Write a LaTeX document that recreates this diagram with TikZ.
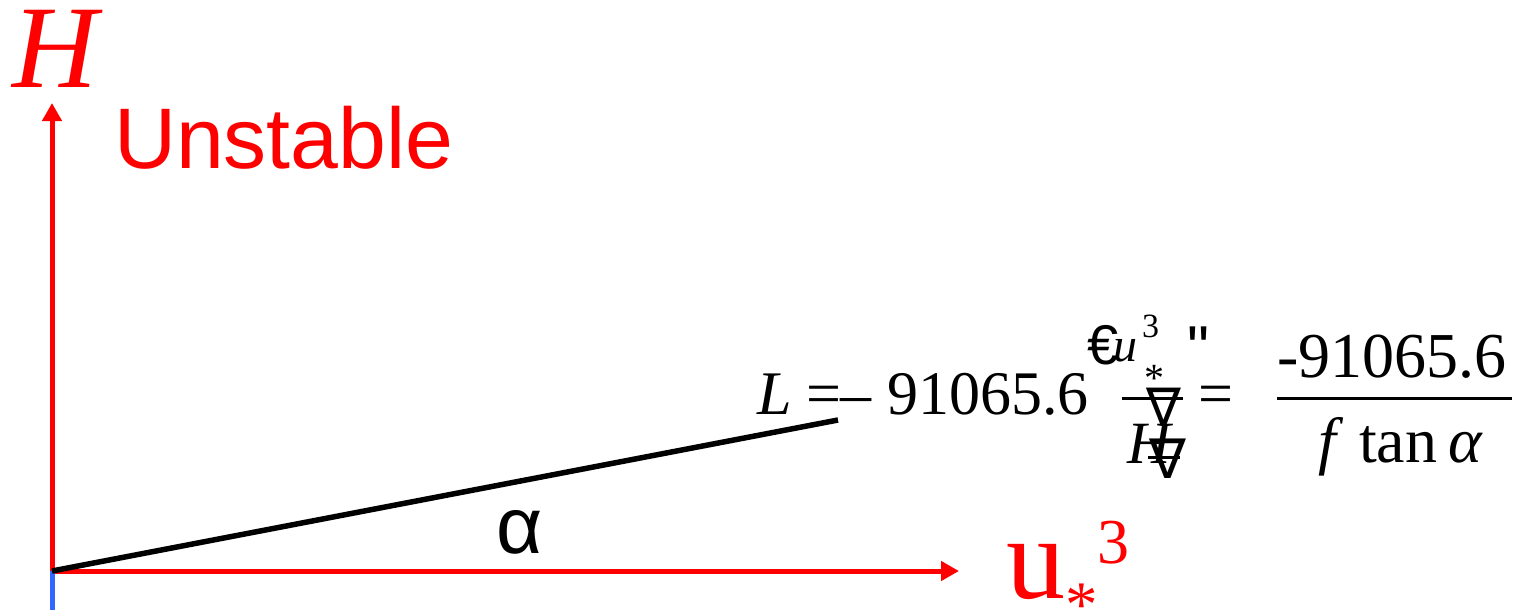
\documentclass[tikz,border=0pt]{standalone}
\usepackage{fontspec}
\setmainfont{Liberation Serif}
\setsansfont{Liberation Sans}
\newfontfamily\nablafont{DejaVu Sans}
\font\qtfont="Liberation Sans" at 62pt
\usetikzlibrary{positioning,arrows.meta,calc}
\definecolor{axisred}{HTML}{FF0000}
\definecolor{stubblue}{HTML}{3366FF}
\definecolor{ink}{HTML}{000000}
\newcommand{\fsz}[1]{\fontsize{#1pt}{#1pt}\selectfont}
\tikzset{
  axis/.style={draw=axisred, line width=5pt, -{Triangle[length=18pt,width=19pt]}},
  stub/.style={draw=stubblue, line width=5pt},
  slope/.style={draw=ink, line width=5.5pt},
  bar/.style={draw=ink, line width=3pt},
  lab/.style={inner sep=0pt, outer sep=0pt, anchor=base west, text=ink},
  redlab/.style={lab, text=axisred},
}

\begin{document}
\begin{tikzpicture}[x=1pt, y=-1pt, font=\fsz{62}]
  \useasboundingbox (0,0) rectangle (1529,610);
  % axes and the slope line
  \coordinate (o) at (52,571);
  \coordinate (top) at (52,103);
  \coordinate (right) at (959,571);
  \coordinate (low) at (52,610);
  \coordinate (tip) at (838,420);
  \draw[axis] (o) -- (top);
  \draw[axis] (o) -- (right);
  \draw[stub] (o) -- (low);
  \draw[slope] (o) -- (tip);
  % axis labels
  \node[redlab, anchor=base, font={\fsz{118}\itshape}] (hlab) at (55,88) {H};
  \node[redlab, font={\fsz{86}\sffamily}] (unst) at (114,168) {Unstable};
  \node[lab, anchor=base, font={\fsz{80}\sffamily}] (alab) at (520,553) {α};
  \node[redlab, font=\fsz{118}] (ulab) at (1006,598)
    {u\raisebox{-28pt}{\fsz{65}*}\raisebox{35pt}{\fsz{64}3}};
  % left part of the formula
  \node[lab, font={\fsz{62}\itshape}] (eqL) at (757,414) {L};
  \node[lab] (eqrel) at (806,414) {=–\ 91065.6};
  \node[lab, font={\fsz{56}\sffamily}] (euro) at (1087,364) {€};
  \node[lab, font={\fsz{48}\itshape}] (fu) at (1113,361) {u};
  \node[lab, font=\fsz{34}] (fsup) at (1142,337) {3};
  \node[lab, font=\fsz{40}] (fsub) at (1144,391) {*};
  \node[lab, font=\qtfont] (fq) at (1187,369) {"};
  \node[lab, font={\fsz{60}\itshape}] (fH) at (1127,463) {H};
  \node[lab, font={\fsz{52}\nablafont}] (nab1) at (1146,425) {∇};
  \node[lab, font={\fsz{55}\nablafont}] (nab2) at (1149,478) {∇};
  \draw[bar] (1122,398) -- (1183,398);
  \draw[bar] (1148,457) -- (1180,457);
  \node[lab] (eqrel2) at (1198,414) {=};
  % right fraction
  \node[lab, font=\fsz{64}] (num) at (1277,377) {-91065.6};
  \draw[bar] (1277,398) -- (1512,398);
  \node[lab, font=\fsz{64}] (den) at (1318,462) {\textit{f}\ tan\,\textit{α}};
\end{tikzpicture}
\end{document}
